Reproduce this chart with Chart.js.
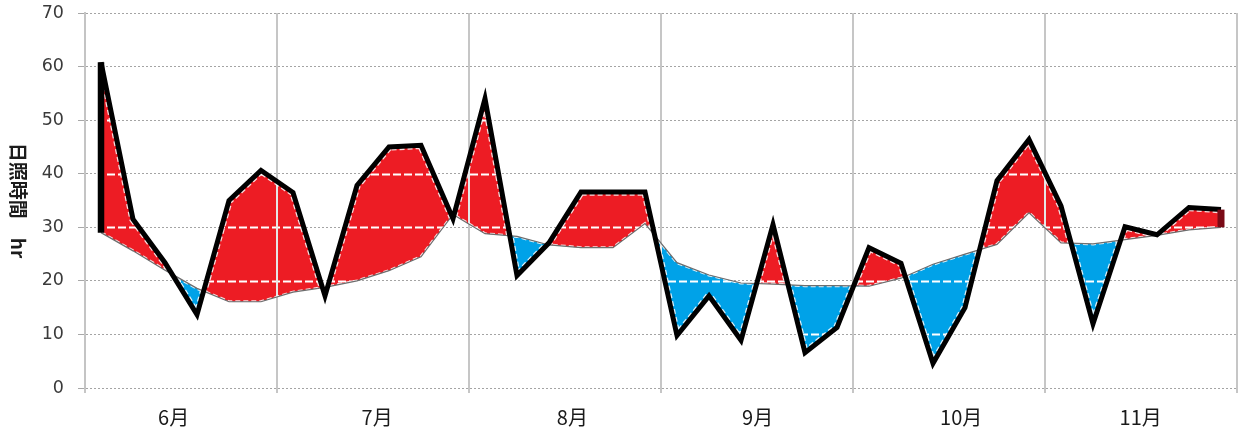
<!DOCTYPE html>
<html>
<head>
<meta charset="utf-8">
<script src="https://cdn.jsdelivr.net/npm/chart.js@4.4.1/dist/chart.umd.min.js"></script>
<style>
  html, body { margin: 0; padding: 0; background: #ffffff; }
  #wrap { width: 1245px; height: 438px; position: relative; }
</style>
</head>
<body>
<div id="wrap"><canvas id="chart"></canvas></div>
<script>
// 半旬ごとの日照時間（6月〜11月、各月6半旬）
const months = ['6月', '7月', '8月', '9月', '10月', '11月'];
const pentadsPerMonth = 6;

// 実測値 (hr)
const actualHours = [
  60.8, 31.5, 23.4, 13.7, 35.0, 40.6,
  36.5, 17.2, 37.8, 45.0, 45.3, 31.6,
  54.0, 21.0, 27.1, 36.6, 36.6, 36.6,
   9.8, 17.2,  8.9, 30.5,  6.6, 11.3,
  26.2, 23.3,  4.6, 15.0, 38.7, 46.4,
  34.0, 12.0, 30.1, 28.6, 33.7, 33.3
];

// 平年値 (hr)
const normalHours = [
  29.0, 25.6, 22.0, 18.6, 16.1, 16.1,
  17.9, 18.8, 20.0, 21.9, 24.5, 32.4,
  28.8, 28.3, 26.7, 26.2, 26.2, 30.7,
  23.4, 21.1, 19.6, 19.4, 19.1, 19.1,
  19.0, 20.5, 23.1, 25.0, 26.8, 32.7,
  27.1, 26.9, 27.7, 28.5, 29.5, 30.0
];

const yTicks = [0, 10, 20, 30, 40, 50, 60, 70];
const yTitleText = '日照時間　hr';

// ---- derived structures ----
const count = actualHours.length;
const lastIdx = count - 1;
const actualPts = actualHours.map((v, i) => ({ x: i, y: v }));
const normalPts = normalHours.map((v, i) => ({ x: i, y: v }));
const startEdge = [{ x: 0, y: normalHours[0] }, { x: 0, y: actualHours[0] }];
const endEdge = [{ x: lastIdx, y: normalHours[lastIdx] }, { x: lastIdx, y: actualHours[lastIdx] }];

// month separators sit between pentads; month names sit under each month
const monthBounds = months.map((m, k) => k * pentadsPerMonth - 0.5).concat([count - 0.5]);
const monthLabelAt = [2.27, 8.63, 14.73, 20.52, 26.88, 32.49];
const isBound = v => monthBounds.some(b => Math.abs(b - v) < 1e-6);

const RED = '#ED1C24';
const BLUE = '#00A2E8';

// white gridlines and dashed edges drawn over the filled difference area
const fillOverlay = {
  id: 'fillOverlay',
  beforeDatasetsDraw(chart) {
    const a = chart.getDatasetMeta(0).data;
    const n = chart.getDatasetMeta(1).data;
    const ctx = chart.ctx;
    const area = chart.chartArea;
    const xs = chart.scales.x, ys = chart.scales.y;
    const tracePath = pts => {
      ctx.beginPath();
      pts.forEach((p, i) => i ? ctx.lineTo(p.x, p.y) : ctx.moveTo(p.x, p.y));
    };
    ctx.save();
    ctx.beginPath();
    a.forEach((p, i) => i ? ctx.lineTo(p.x, p.y) : ctx.moveTo(p.x, p.y));
    for (let i = n.length - 1; i >= 0; i--) ctx.lineTo(n[i].x, n[i].y);
    ctx.closePath();
    ctx.clip();

    ctx.strokeStyle = '#ffffff';
    ctx.lineWidth = 2;
    ctx.setLineDash([8, 3]);
    yTicks.forEach(t => {
      const y = Math.round(ys.getPixelForValue(t)) + 0.5;
      ctx.beginPath();
      ctx.moveTo(area.left, y);
      ctx.lineTo(area.right, y);
      ctx.stroke();
    });

    ctx.setLineDash([]);
    ctx.strokeStyle = '#e6e6e6';
    ctx.lineWidth = 2;
    monthBounds.forEach(v => {
      const x = Math.round(xs.getPixelForValue(v));
      ctx.beginPath();
      ctx.moveTo(x, area.top);
      ctx.lineTo(x, area.bottom);
      ctx.stroke();
    });

    ctx.strokeStyle = 'rgba(255,255,255,0.85)';
    ctx.setLineDash([5, 3]);
    ctx.lineJoin = 'miter';
    ctx.lineWidth = 7.5;
    tracePath(a);
    ctx.stroke();
    ctx.lineWidth = 3;
    tracePath(n);
    ctx.stroke();
    ctx.restore();
  }
};

// rotated axis title (reads top to bottom)
const yTitle = {
  id: 'yTitle',
  afterDraw(chart) {
    const ctx = chart.ctx;
    const area = chart.chartArea;
    ctx.save();
    ctx.translate(18, (area.top + area.bottom) / 2);
    ctx.rotate(Math.PI / 2);
    ctx.font = 'bold 19px "Noto Sans CJK JP"';
    ctx.fillStyle = '#1c1c1c';
    ctx.textAlign = 'center';
    ctx.textBaseline = 'middle';
    ctx.fillText(yTitleText, 0, 0);
    ctx.restore();
  }
};

new Chart(document.getElementById('chart'), {
  type: 'line',
  data: {
    datasets: [
      {
        label: '日照時間',
        data: actualPts,
        borderColor: '#000000',
        borderWidth: 5,
        pointRadius: 0,
        tension: 0,
        borderJoinStyle: 'miter',
        fill: { target: 1, above: RED, below: BLUE },
        order: 2
      },
      {
        label: '平年値',
        data: normalPts,
        borderColor: '#6e6e6e',
        borderWidth: 1.2,
        pointRadius: 0,
        tension: 0,
        fill: false,
        order: 3
      },
      {
        label: 'start',
        data: startEdge,
        borderColor: '#000000',
        borderWidth: 6.5,
        pointRadius: 0,
        fill: false,
        order: 1
      },
      {
        label: 'end',
        data: endEdge,
        borderColor: '#7a0a16',
        borderWidth: 7,
        pointRadius: 0,
        fill: false,
        order: 0
      }
    ]
  },
  options: {
    responsive: true,
    maintainAspectRatio: false,
    animation: false,
    events: [],
    layout: { padding: { top: 13, right: 8, left: 0, bottom: 0 } },
    plugins: {
      legend: { display: false },
      tooltip: { enabled: false },
      filler: { drawTime: 'beforeDatasetsDraw' }
    },
    scales: {
      x: {
        type: 'linear',
        min: -0.5,
        max: count - 0.5,
        afterBuildTicks(scale) {
          scale.ticks = monthBounds.concat(monthLabelAt)
            .sort((p, q) => p - q)
            .map(v => ({ value: v }));
        },
        afterFit(scale) {
          scale.height = 50;
          scale.paddingLeft = 0;
          scale.paddingRight = 0;
        },
        ticks: {
          autoSkip: false,
          maxRotation: 0,
          minRotation: 0,
          padding: 12,
          color: '#1a1a1a',
          font: { family: '"Noto Sans CJK JP"', size: 20 },
          callback(value) {
            const k = monthLabelAt.findIndex(v => Math.abs(v - value) < 1e-6);
            return k >= 0 ? months[k] : '';
          }
        },
        grid: {
          color: c => (c.tick && isBound(c.tick.value)) ? '#c6c6c6' : 'rgba(0,0,0,0)',
          tickColor: c => (c.tick && isBound(c.tick.value)) ? '#c6c6c6' : 'rgba(0,0,0,0)',
          lineWidth: 2,
          tickLength: 5
        },
        border: { display: false }
      },
      y: {
        min: 0,
        max: 70,
        afterBuildTicks(scale) {
          scale.ticks = yTicks.map(v => ({ value: v }));
        },
        afterFit(scale) {
          scale.width = 85;
          scale.paddingTop = 0;
          scale.paddingBottom = 0;
        },
        ticks: {
          padding: 14,
          color: '#3a3a3a',
          font: { family: '"DejaVu Sans"', size: 17.5 }
        },
        grid: {
          color: '#a4a4a4',
          lineWidth: 1,
          tickLength: 7,
          tickColor: '#a8a8a8',
          tickBorderDash: []
        },
        border: { display: true, color: '#c4c4c4', width: 2, dash: [2, 2] }
      }
    }
  },
  plugins: [fillOverlay, yTitle]
});
</script>
</body>
</html>
